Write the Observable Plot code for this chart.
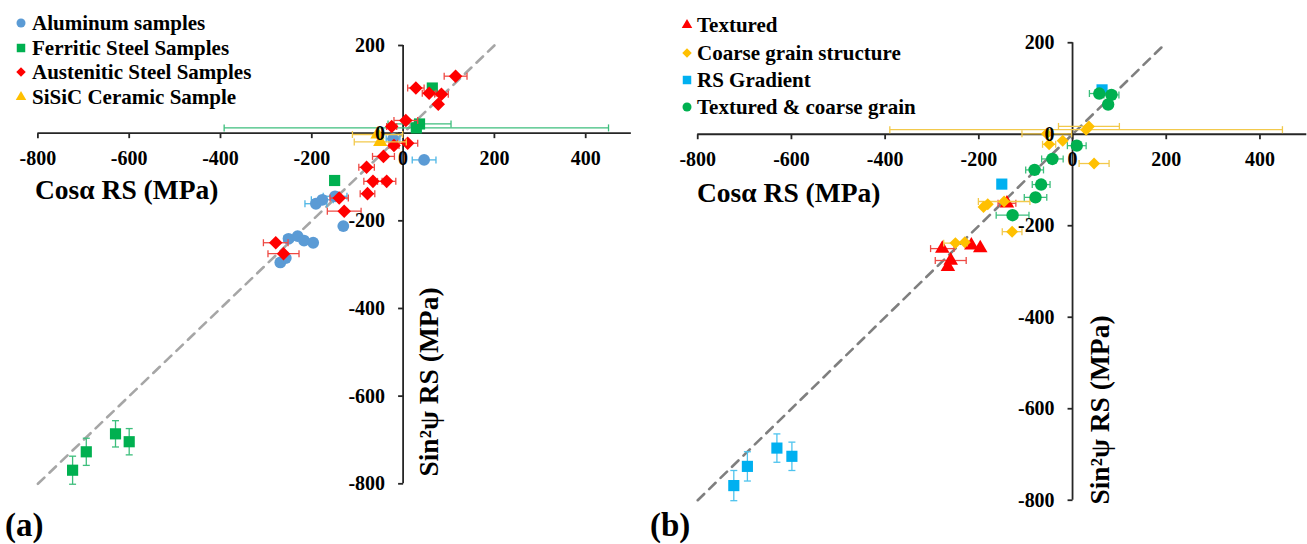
<!DOCTYPE html>
<html><head><meta charset="utf-8">
<script src="https://cdn.jsdelivr.net/npm/d3@7"></script>
<script src="https://cdn.jsdelivr.net/npm/@observablehq/plot@0.6"></script>
<style>
body{margin:0;background:#fff;}
#wrap{position:relative;width:1307px;height:544px;overflow:hidden;font-family:"Liberation Serif","Times New Roman",serif;font-weight:bold;color:#000;}
.abs{position:absolute;white-space:nowrap;line-height:1;}
.panel{position:absolute;top:0;}
</style></head><body><div id="wrap"></div>
<script>
// ---------- tick values ----------
const xTicks = [-800, -600, -400, -200, 0, 200, 400];
const yTicks = [-800, -600, -400, -200, 0, 200];
const diagonal = [-800, 200];

// ---------- panel (a) ----------
const aluX    = [-22, 46, -191, -177, -149, -131, -251, -231, -217, -197, -269, -257];
const aluY    = [-13, -61, -161, -152, -144, -212, -241, -235, -245, -250, -295, -285];
const aluXErr = [15, 26, 24, 24, 26, 0, 10, 0, 0, 0, 0, 0];

const ferX    = [64, 36, 29, -150, -724, -694, -630, -600];
const ferY    = [103, 21, 12, -108, -769, -727, -686, -704];
const ferXErr = [0, 69, 421, 0, 0, 0, 0, 0];
const ferYErr = [0, 0, 0, 0, 32, 31, 30, 30];

const ausX    = [115, 28, 57, 84, 77, 6, -25, 10, -20, -43, -80, -66, -36, -78, -140, -129, -279, -262];
const ausY    = [130, 103, 91, 89, 66, 29, 15, -23, -28, -53, -78, -110, -110, -138, -148, -178, -250, -275];
const ausXErr = [25, 18, 15, 15, 0, 26, 11, 22, 11, 24, 17, 20, 20, 16, 20, 37, 27, 34];

const sicX    = [-56, -50];
const sicY    = [-3, -20];
const sicXErr = [55, 57];

// ---------- panel (b) ----------
const texX    = [-140, -278, -216, -197, -260, -266];
const texY    = [-151, -250, -243, -249, -276, -290];
const texXErr = [19, 25, 0, 0, 33, 0];

const coarseX    = [35, 29, -55, -50, -21, 46, -146, -190, -181, -129, -250, -230];
const coarseY    = [17, 10, 1, -22, -14, -64, -147, -159, -153, -213, -238, -236];
const coarseXErr = [65, 419, 53, 14, 0, 32, 55, 0, 0, 21, 25, 0];

const gradX    = [63, -151, -723, -694, -631, -599];
const gradY    = [97, -109, -768, -726, -686, -704];
const gradYErr = [0, 0, 33, 32, 31, 31];

const tcX    = [57, 83, 76, 9, -43, -81, -67, -79, -128];
const tcY    = [89, 86, 65, -25, -54, -78, -110, -138, -177];
const tcXErr = [21, 16, 0, 20, 23, 19, 19, 24, 35];

// ---------- helpers ----------
const FONT = '"Liberation Serif", "Times New Roman", serif';
const AXIS = "#262626";
const capV = {draw(c){ c.moveTo(0, -3.5); c.lineTo(0, 3.5); }};
const capH = {draw(c){ c.moveTo(-3.5, 0); c.lineTo(3.5, 0); }};
const tickDown = {draw(c){ c.moveTo(0, 0); c.lineTo(0, 5); }};
const tickLeft = {draw(c){ c.moveTo(0, 0); c.lineTo(-5, 0); }};

function rows(xs, ys, xe, ye) {
  return xs.map((x, i) => ({x, y: ys[i], xe: xe ? xe[i] : 0, ye: ye ? ye[i] : 0}));
}

function seriesMarks(s) {
  const d = rows(s.x, s.y, s.xe, s.ye);
  const xb = d.filter(r => r.xe > 0), yb = d.filter(r => r.ye > 0);
  const bs = {stroke: s.bar, strokeWidth: 1.3, fill: "none"};
  return [
    Plot.link(xb, {x1: r => r.x - r.xe, x2: r => r.x + r.xe, y1: "y", y2: "y", ...bs}),
    Plot.dot(xb, {x: r => r.x - r.xe, y: "y", symbol: capV, ...bs}),
    Plot.dot(xb, {x: r => r.x + r.xe, y: "y", symbol: capV, ...bs}),
    Plot.link(yb, {x1: "x", x2: "x", y1: r => r.y - r.ye, y2: r => r.y + r.ye, ...bs}),
    Plot.dot(yb, {x: "x", y: r => r.y - r.ye, symbol: capH, ...bs}),
    Plot.dot(yb, {x: "x", y: r => r.y + r.ye, symbol: capH, ...bs}),
    Plot.dot(d, {x: "x", y: "y", symbol: s.symbol, r: s.r, fill: s.color, stroke: "none"})
  ];
}

function panel(cfg) {
  const txt = {fontSize: 20, fontWeight: "bold", fontFamily: FONT, fill: "#000"};
  return Plot.plot({
    width: cfg.width, height: 544,
    marginLeft: cfg.ml, marginRight: cfg.mr, marginTop: cfg.mt, marginBottom: cfg.mb,
    x: {type: "linear", domain: [-800, 500], axis: null},
    y: {type: "linear", domain: [-800, 200], axis: null},
    style: {background: "transparent", overflow: "visible"},
    marks: [
      Plot.ruleY([0], {x1: -800, x2: 500, stroke: AXIS, strokeWidth: 1.8}),
      Plot.ruleX([0], {y1: -800, y2: 200, stroke: AXIS, strokeWidth: 1.8}),
      Plot.dot(xTicks, {x: d => d, y: 0, symbol: tickDown, stroke: AXIS, strokeWidth: 1.8, fill: "none"}),
      Plot.dot(yTicks, {x: 0, y: d => d, symbol: tickLeft, stroke: AXIS, strokeWidth: 1.8, fill: "none"}),
      Plot.line(diagonal, {x: d => d, y: d => d, stroke: cfg.diag, strokeWidth: 2.6, strokeDasharray: "9,7"}),
      ...cfg.series.flatMap(seriesMarks),
      Plot.text(xTicks, {x: d => d, y: 0, text: d => String(d), dy: 25, ...txt}),
      Plot.text(yTicks, {x: 0, y: d => d, text: d => String(d), dx: -18, textAnchor: "end", ...txt})
    ]
  });
}

const serA = [
  {x: aluX, y: aluY, xe: aluXErr, symbol: "circle", r: 5.9, color: "#5B9BD5", bar: "#4DB6E6", name: "Aluminum samples"},
  {x: ferX, y: ferY, xe: ferXErr, ye: ferYErr, symbol: "square", r: 6.3, color: "#00B050", bar: "#3DBE7C", name: "Ferritic Steel Samples"},
  {x: ausX, y: ausY, xe: ausXErr, symbol: "diamond2", r: 6.1, color: "#FF0000", bar: "#EE4A44", name: "Austenitic Steel Samples"},
  {x: sicX, y: sicY, xe: sicXErr, symbol: "triangle", r: 5.3, color: "#FFC000", bar: "#F2C94C", name: "SiSiC Ceramic Sample"}
];
const serB = [
  {x: texX, y: texY, xe: texXErr, symbol: "triangle", r: 5.4, color: "#FF0000", bar: "#EE4A44", name: "Textured"},
  {x: coarseX, y: coarseY, xe: coarseXErr, symbol: "diamond2", r: 5.4, color: "#FFC000", bar: "#F2C94C", name: "Coarse grain structure"},
  {x: gradX, y: gradY, ye: gradYErr, symbol: "square", r: 6.3, color: "#00B0F0", bar: "#4DC3EE", name: "RS Gradient"},
  {x: tcX, y: tcY, xe: tcXErr, symbol: "circle", r: 6.2, color: "#00B050", bar: "#3DBE7C", name: "Textured & coarse grain"}
];

const wrap = document.getElementById("wrap");

function place(node, left) {
  const d = document.createElement("div");
  d.className = "panel"; d.style.left = left + "px";
  d.appendChild(node); wrap.appendChild(d);
}
place(panel({width: 650, ml: 37.4, mr: 19.15, mt: 45, mb: 60.7, diag: "#A6A6A6", series: serA}), 0);
place(panel({width: 658, ml: 47.3, mr: 0.7, mt: 42.3, mb: 43.5, diag: "#7F7F7F", series: serB}), 650);

function addText(html, left, top, size, extra) {
  const d = document.createElement("div");
  d.className = "abs"; d.innerHTML = html;
  d.style.left = left + "px"; d.style.top = top + "px"; d.style.fontSize = size + "px";
  if (extra) Object.assign(d.style, extra);
  wrap.appendChild(d); return d;
}

const symMap = {circle: d3.symbolCircle, square: d3.symbolSquare, diamond2: d3.symbolDiamond2, triangle: d3.symbolTriangle};
function legend(series, mx, tx, ys) {
  series.forEach((s, i) => {
    const svg = d3.create("svg").attr("width", 14).attr("height", 14)
      .style("position", "absolute").style("left", (mx - 7) + "px").style("top", (ys[i] - 7) + "px");
    const size = s.symbol === "circle" ? 64 : s.symbol === "square" ? 72 : s.symbol === "diamond2" ? 58 : 48;
    svg.append("path").attr("transform", "translate(7,7)")
      .attr("d", d3.symbol().type(symMap[s.symbol]).size(size)()).attr("fill", s.color);
    wrap.appendChild(svg.node());
    addText(s.name, tx, ys[i], 21, {transform: "translateY(-50%)"});
  });
}
legend(serA, 20.7, 32, [22.7, 47.7, 71.7, 96.7]);
legend(serB, 686.7, 697, [25, 53.3, 80, 106.7]);

// axis titles
addText("Cosα RS (MPa)", 35, 190, 27.5, {transform: "translateY(-50%)"});
addText("Cosα RS (MPa)", 697, 193, 27.5, {transform: "translateY(-50%)"});
addText("Sin²ψ RS (MPa)", 429, 382, 27.5, {transform: "translate(-50%,-50%) rotate(-90deg)"});
addText("Sin²ψ RS (MPa)", 1100, 410, 27.5, {transform: "translate(-50%,-50%) rotate(-90deg)"});
addText("(a)", 5, 525, 33, {transform: "translateY(-50%)"});
addText("(b)", 650, 525, 33, {transform: "translateY(-50%)"});
</script>
</body></html>
